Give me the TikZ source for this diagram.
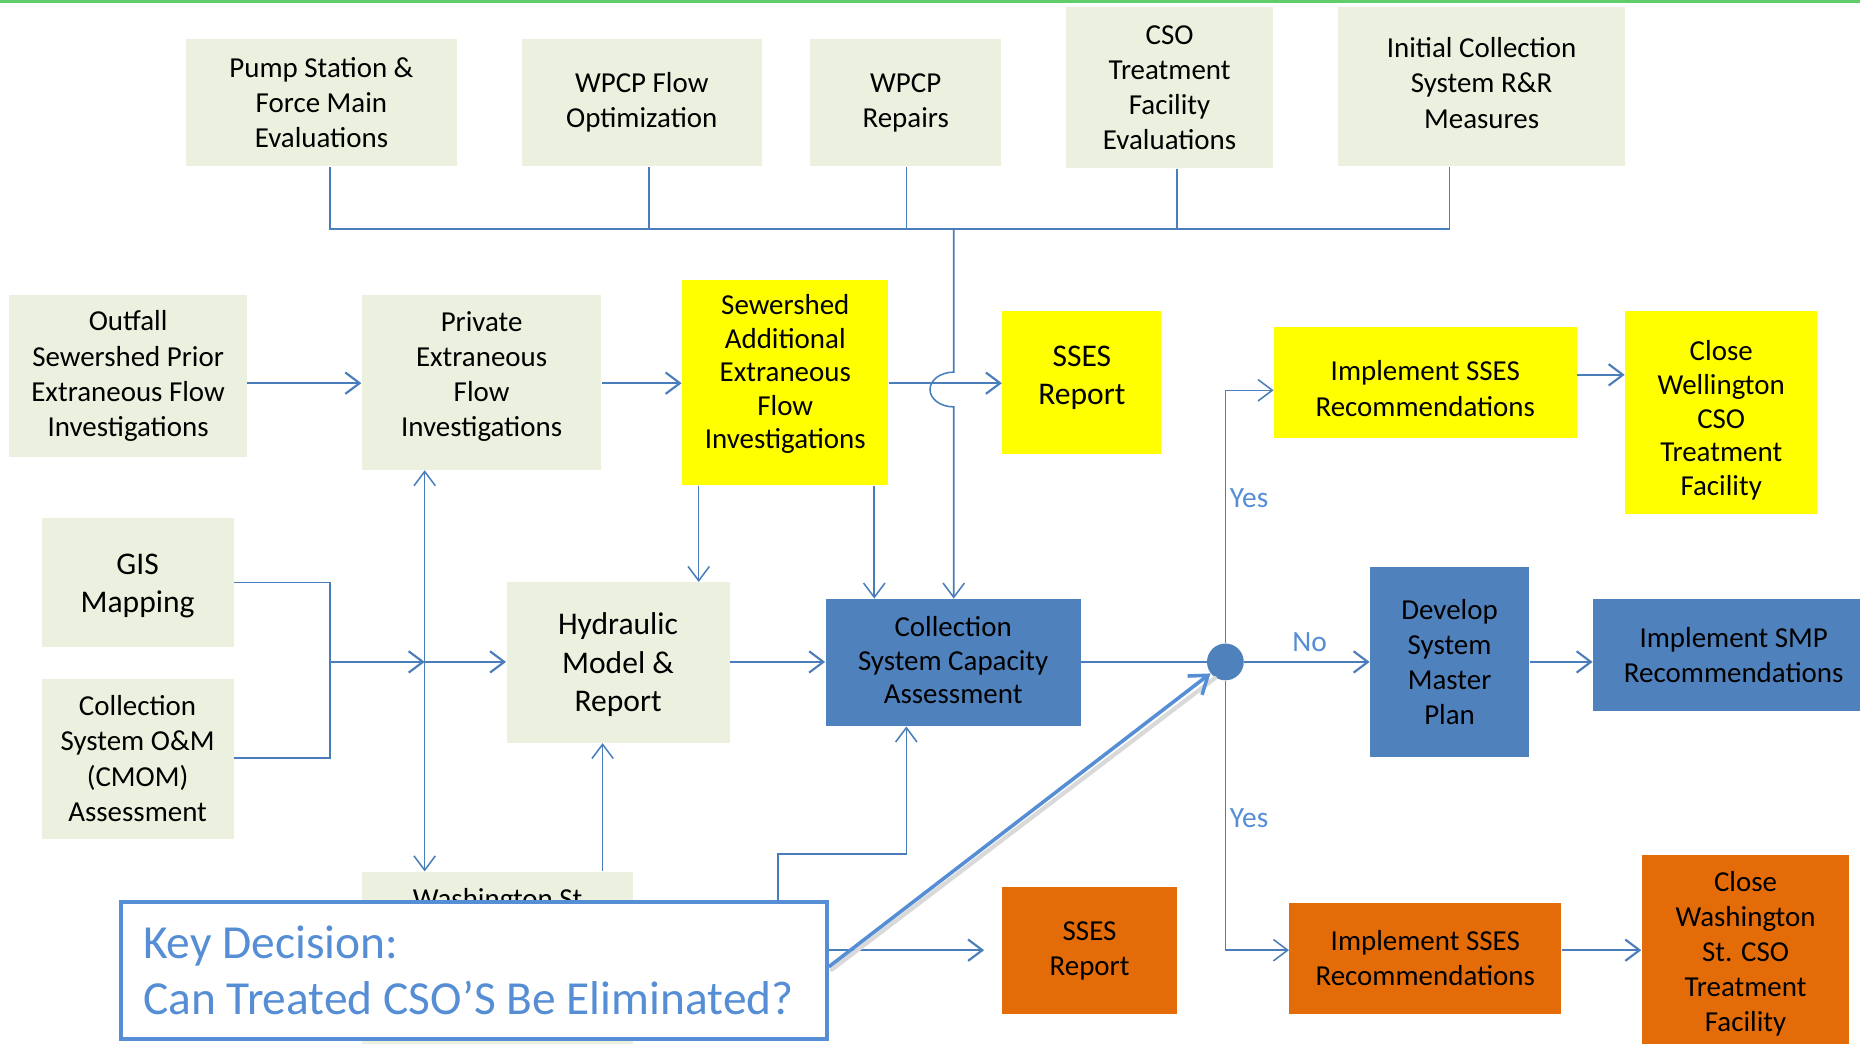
\documentclass[tikz,border=0pt]{standalone}
\usepackage{fontspec}
\setmainfont{Carlito}
\usetikzlibrary{arrows.meta}
\definecolor{beige}{HTML}{EBF1DE}
\definecolor{ylw}{HTML}{FFFF00}
\definecolor{bluebox}{HTML}{4F81BD}
\definecolor{orng}{HTML}{E36C09}
\definecolor{lineblue}{HTML}{4A7EBB}
\definecolor{keyblue}{HTML}{558ED5}
\definecolor{topgreen}{RGB}{95,205,105}
\newcommand\fstd{\fontsize{12.2}{14.8}\selectfont}
\newcommand\fbig{\fontsize{13.3}{16.2}\selectfont}
\newcommand\fkey{\fontsize{20}{24}\selectfont}
\tikzset{
  bx/.style n args={4}{draw=none, inner sep=0pt, align=center, font=\fstd,
    minimum width={(#3-#1)*0.5pt}, minimum height={(#4-#2)*0.5pt},
    at={({(#1+#3)/2},{(#2+#4)/2})}},
  txt/.style={font=\fstd, align=center, inner sep=0pt},
  tip/.tip={Straight Barb[length=6pt,width=9pt]},
  conn/.style={draw=lineblue, line width=0.9pt, -tip},
  connthin/.style={draw=lineblue, line width=0.65pt, -tip},
  bus/.style={draw=lineblue, line width=0.65pt},
  answer/.style={font=\fontsize{12.4}{14}\selectfont, text=keyblue, inner sep=0pt},
}
\begin{document}
\begin{tikzpicture}[x=0.5pt,y=-0.5pt]
\useasboundingbox (0,0) rectangle (1568,880);
\clip (0,0) rectangle (1568,880);
\fill[white] (0,0) rectangle (1568,880);
\fill[topgreen] (0,0) rectangle (1568,2.8);

% top row
\node[bx={157}{33}{385}{140}, fill=beige] (pump) {Pump Station \&\\Force Main\\Evaluations};
\node[bx={440}{33}{642}{140}, fill=beige] (flow) {WPCP Flow\\Optimization};
\node[bx={683}{33}{844}{140}, fill=beige] (repairs) {WPCP\\Repairs};
\node[bx={899}{6}{1073}{142}, fill=beige] (csoeval) {CSO\\Treatment\\Facility\\Evaluations};
\node[bx={1128}{6}{1370}{140}, fill=beige,
  label={[txt, yshift=1.5pt]center:Initial Collection\\System R\&R\\Measures}] (initial) {};

% middle row
\node[bx={8}{249}{208}{385}, fill=beige] (outfall) {Outfall\\Sewershed Prior\\Extraneous Flow\\Investigations};
\node[bx={305}{249}{507}{396}, fill=beige,
  label={[txt, yshift=2.5pt]center:Private\\Extraneous\\Flow\\Investigations}] (private) {};
\node[bx={575}{236}{749}{409}, fill=ylw,
  label={[txt, font=\fontsize{12.2}{14.1}\selectfont, yshift=3.5pt]center:Sewershed\\Additional\\Extraneous\\Flow\\Investigations}] (additional) {};
\node[bx={845}{262}{979}{383}, fill=ylw,
  label={[txt, font=\fbig, yshift=2pt]center:SSES\\Report}] (ssesY) {};
\node[bx={1074}{276}{1329}{369}, fill=ylw,
  label={[txt, yshift=-2.5pt]center:Implement SSES\\Recommendations}] (implY) {};
\node[bx={1370}{262}{1532}{433}, fill=ylw,
  label={[txt, font=\fontsize{12.2}{14.2}\selectfont, yshift=-3.5pt]center:Close\\Wellington\\CSO\\Treatment\\Facility}] (closeW) {};

% lower rows
\node[bx={35}{437}{197}{545}, fill=beige,
  label={[txt, font=\fbig, yshift=-1.5pt]center:GIS\\Mapping}] (gis) {};
\node[bx={35}{572}{197}{707}, fill=beige] (cmom) {Collection\\System O\&M\\(CMOM)\\Assessment};
\node[bx={427}{491}{615}{626}, fill=beige,
  label={[txt, font=\fbig, yshift=-1pt]center:Hydraulic\\Model \&\\Report}] (hydraulic) {};
\node[bx={696}{505}{911}{612}, fill=bluebox,
  label={[txt, font=\fontsize{12.2}{14.1}\selectfont, yshift=1pt]center:Collection\\System Capacity\\Assessment}] (capacity) {};
\node[circle, fill=bluebox, minimum size=15.5pt, inner sep=0pt] (decision) at (1033,558) {};
\node[bx={1155}{478}{1289}{638}, fill=bluebox] (master) {Develop\\System\\Master\\Plan};
\node[bx={1343}{505}{1580}{599}, fill=bluebox] (smp) {Implement SMP\\Recommendations};

\node[bx={845}{748}{992}{855}, fill=orng] (ssesO) {SSES\\Report};
\node[bx={1087}{761}{1316}{855}, fill=orng] (implO) {Implement SSES\\Recommendations};
\node[bx={1384}{721}{1559}{887}, fill=orng] (closeWa) {Close\\Washington\\St. CSO\\Treatment\\Facility};

\node[bx={305}{735}{534}{900}, fill=beige,
  label={[txt, anchor=north, yshift=-7pt]north:Washington St}] (wash) {};

\node[bx={102}{760}{697}{876}, draw=keyblue, line width=1.7pt, fill=white,
  label={[inner sep=0pt, font=\fkey, text=keyblue, align=left, anchor=west, xshift=10pt]west:Key Decision:\\Can Treated CSO’S Be Eliminated?}] (key) {};

% top bus
\draw[bus] (pump.south -| 278,0) -- (278,193) -- (1222,193) -- (initial.south -| 1222,0);
\draw[bus] (flow.south -| 547,0) -- (547,193);
\draw[bus] (repairs.south -| 764,0) -- (764,193);
\draw[bus] (csoeval.south -| 992,0) -- (992,193);
\draw[connthin] (804,193) -- (804,313.7)
  arc[start angle=270, end angle=90, x radius=20, y radius=14.65]
  -- (capacity.north -| 804,0);

% middle row arrows
\draw[conn] (outfall.east |- 0,323) -- (private.west |- 0,323);
\draw[conn] (private.east |- 0,323) -- (additional.west |- 0,323);
\draw[conn] (additional.east |- 0,323) -- (ssesY.west |- 0,323);
\draw[connthin] (additional.south -| 589,0) -- (hydraulic.north -| 589,0);
\draw[connthin] (additional.south -| 737,0) -- (capacity.north -| 737,0);

% GIS / CMOM
\coordinate (cross) at (358,558);
\draw[bus] (gis.east |- 0,491) -- (278,491) -- (278,639) -- (cmom.east |- 0,639);
\draw[conn] (278,558) -- (cross);
\draw[conn] (cross) -- (hydraulic.west |- 0,558);
\draw[connthin, tip-tip] (private.south -| cross) -- (wash.north -| cross);
\draw[connthin] (wash.north -| 508,0) -- (hydraulic.south -| 508,0);
\draw[conn] (hydraulic.east |- 0,558) -- (capacity.west |- 0,558);
\draw[connthin] (key.north -| 656,0) -- (656,720) -- (764,720) -- (capacity.south -| 764,0);

% decision
\draw[lineblue, line width=0.9pt] (capacity.east |- 0,558) -- (decision);
\draw[conn] (decision) -- (master.west |- 0,558);
\node[answer] (no) at (1104,541) {No};
\draw[connthin] (decision) -- (decision |- 0,329) -- (implY.west |- 0,329);
\node[answer] (yes1) at (1053,420) {Yes};
\draw[connthin] (decision) -- (decision |- 0,801) -- (implO.west |- 0,801);
\node[answer] (yes2) at (1053,690) {Yes};
\draw[conn] (implY.east |- 0,316) -- (closeW.west |- 0,316);
\draw[conn] (master.east |- 0,558) -- (smp.west |- 0,558);
\draw[conn] (implO.east |- 0,801) -- (closeWa.west |- 0,801);
\draw[conn, shorten >=7.5pt] (key.east |- 0,801) -- (ssesO.west |- 0,801);

% callout pointer
\draw[black!15, line width=1.8pt, line cap=round] ([xshift=1.2pt,yshift=-1.2pt]key.east |- 0,815) -- ([xshift=1.2pt,yshift=-1.2pt]decision.south west);
\draw[keyblue, line width=1.5pt, -{Straight Barb[length=7pt,width=10pt]}] (key.east |- 0,815) -- (decision);
\end{tikzpicture}
\end{document}
